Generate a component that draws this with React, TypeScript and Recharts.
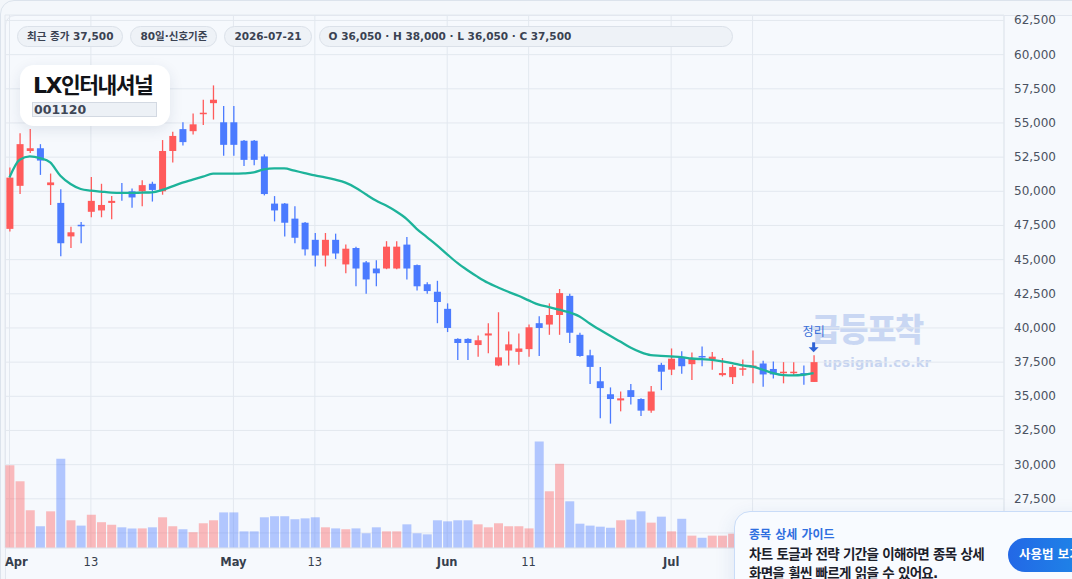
import React from 'react';
import { ComposedChart, Bar, Line, XAxis, YAxis, CartesianGrid, Cell, ReferenceDot } from 'recharts';

const dates = [
  '04-01','04-02','04-03','04-06','04-07','04-08','04-09','04-10','04-13','04-14','04-15','04-16','04-17','04-20','04-21','04-22','04-23','04-24','04-27','04-28','04-29','04-30',
  '05-01','05-04','05-05','05-06','05-07','05-08','05-11','05-12','05-13','05-14','05-15','05-18','05-19','05-20','05-21','05-22','05-25','05-26','05-27','05-28','05-29',
  '06-01','06-02','06-03','06-04','06-05','06-08','06-09','06-10','06-11','06-12','06-15','06-16','06-17','06-18','06-19','06-22','06-23','06-24','06-25','06-26','06-29','06-30',
  '07-01','07-02','07-03','07-06','07-07','07-08','07-09','07-10','07-13','07-14','07-15','07-16','07-17','07-20','07-21'
];

const opens = [
  47250,50400,52950,53150,50450,49150,46700,47550,48500,48600,49150,49950,50000,50000,50550,50000,52950,54550,54400,55650,
  56450,55050,55050,53700,53700,52550,49100,49100,48000,47700,46450,45300,46450,44650,45850,44800,44350,44350,44350,46100,
  44600,43200,42650,41400,39200,39200,38750,39450,37250,38350,38250,38450,40350,40250,40950,42350,39500,38000,36100,35150,
  34700,35450,34800,33950,37300,36950,37800,37350,37950,37700,36550,36400,36950,37100,37400,37000,36700,36700,36700,36050
];
const highs = [
  51750,54250,54550,53450,51300,50150,47400,47750,51050,50550,49650,50600,50200,50800,50700,53750,54350,55050,55700,56700,
  57750,56250,56250,53750,53750,52700,49650,49150,48900,47750,46950,46950,46900,46100,45950,44900,44950,46350,46350,46650,
  44650,43350,43450,41800,39250,39250,39450,40350,41150,39750,39600,40250,40850,41800,42850,42500,39650,38400,37150,35650,
  35350,35900,34850,35750,37450,38500,38300,38200,38650,38250,37800,37300,37700,38350,37600,37550,37500,37500,37250,38000
];
const lows = [
  47050,49800,52800,51200,49000,45250,45850,46200,48100,48100,47950,49300,48800,48900,49250,49750,52100,53350,54150,54850,
  55250,52600,52600,51850,51900,49700,47800,46700,46200,45300,44500,44500,45050,44000,43050,42500,43050,44300,44300,43550,
  42750,42500,40350,39700,37650,37650,37900,38150,37200,37250,37300,37900,37950,39500,39500,38900,37900,35900,33400,33000,
  33900,34400,33550,33800,35450,36550,36650,36200,37200,36950,36450,35900,36500,35950,35700,36300,35950,36500,35850,36050
];
const closes = [
  51000,53450,53150,52250,50650,46200,47000,47450,49300,49000,49300,49850,49550,50450,50100,52950,54050,53600,54900,55750,
  56700,53400,53400,52300,52300,49800,48600,47700,46600,45750,45300,46450,45450,45800,44350,43550,44000,45950,45950,44350,
  43050,42700,41900,40000,38900,38900,39100,39600,37850,38800,38500,40050,40000,40950,42550,39650,37950,37150,35600,34800,
  34850,34950,33950,35350,36800,37750,37200,37800,37850,37900,36700,37150,37050,37250,36600,36600,36800,36800,36600,37500
];
const ma20 = [
  51020,52306,52549,52428,52112,51141,50535,50170,50049,49976,49904,49879,49879,49904,49928,50098,50365,50632,50850,51068,
  51287,51287,51287,51311,51384,51602,51675,51675,51505,51335,51166,51020,50850,50632,50268,49782,49321,48957,48520,47986,
  47258,46651,46045,45389,44758,44224,43739,43302,42962,42647,42355,42020,41703,41532,41336,41140,40847,40333,39868,39428,
  39012,38572,38230,38010,37961,37912,37863,37765,37716,37667,37560,37432,37260,37163,36942,36698,36551,36527,36576,36698
];
// volume, thousand shares
const volumes = [
  388,313,177,102,172,419,130,105,156,121,109,97,92,92,97,144,102,88,74,116,
  130,167,167,78,78,144,149,149,135,139,144,97,92,88,92,69,97,78,78,111,
  69,64,130,125,130,130,111,97,116,102,102,92,500,266,395,219,114,105,100,95,
  130,133,172,119,147,78,137,58,48,58,58,67,60,70,95,75,55,50,65,105
];

const priceTicks = [25000, 27500, 30000, 32500, 35000, 37500, 40000, 42500, 45000, 47500, 50000, 52500, 55000, 57500, 60000, 62500];
const xTickIdx = [0, 8, 22, 30, 43, 51, 65, 73];
const xTickLabels = ['Apr', '13', 'May', '13', 'Jun', '11', 'Jul', '13'];

const badges = ['최근 종가 37,500', '80일·신호기준', '2026-07-21', 'O 36,050 · H 38,000 · L 36,050 · C 37,500'];

const UP = '#ff5b5b';
const DOWN = '#4b7bff';
const FONT = "'DejaVu Sans', 'Noto Sans CJK KR', sans-serif";

const data = dates.map((d, i) => ({
  idx: i,
  date: d,
  open: opens[i],
  high: highs[i],
  low: lows[i],
  close: closes[i],
  range: [lows[i], highs[i]],
  ma: ma20[i],
  vol: volumes[i],
  up: closes[i] >= opens[i],
}));

function Candle(props: any) {
  const { x, y, width, height, payload } = props;
  if (x == null || y == null || !payload) return null;
  const top = Math.min(y, y + height);
  const h = Math.abs(height);
  const span = payload.high - payload.low;
  const yOf = (v: number) => (span > 0 ? top + ((payload.high - v) / span) * h : top);
  const cx = x + width / 2;
  const yo = yOf(payload.open);
  const yc = yOf(payload.close);
  const bt = Math.min(yo, yc);
  const bh = Math.max(1.5, Math.abs(yo - yc));
  const color = payload.up ? UP : DOWN;
  return (
    <g>
      <line x1={cx} x2={cx} y1={top} y2={top + h} stroke={color} strokeWidth={1.3} />
      <rect x={x} y={bt} width={width} height={bh} fill={color} />
    </g>
  );
}

function XTick(props: any) {
  const { x, y, payload } = props;
  const k = xTickIdx.indexOf(payload.value);
  const label = xTickLabels[k] ?? '';
  const isMonth = isNaN(Number(label));
  const first = k === 0;
  return (
    <text
      x={first ? x - 4.5 : x}
      y={y + 18}
      textAnchor={first ? 'start' : 'middle'}
      fontSize={11.5}
      fontWeight={isMonth ? 700 : 400}
      fill="#363f4d"
    >
      {label}
    </text>
  );
}

function YTick(props: any) {
  const { x, y, payload } = props;
  return (
    <text x={x} y={y + 4} textAnchor="start" fontSize={12} fill="#4a5261">
      {Number(payload.value).toLocaleString('en-US')}
    </text>
  );
}

function SignalMark(props: any) {
  const { cx, cy } = props;
  if (cx == null || cy == null) return null;
  const c = '#2f63d6';
  return (
    <g>
      <text x={cx} y={cy - 19} textAnchor="middle" fontSize={12} fill="#3a6fd8">정리</text>
      <rect x={cx - 1.5} y={cy - 13} width={3} height={6} fill={c} />
      <polygon points={`${cx - 5},${cy - 8} ${cx + 5},${cy - 8} ${cx},${cy - 3}`} fill={c} />
    </g>
  );
}

export default function App() {
  return (
    <div
      style={{
        position: 'absolute',
        left: 0,
        top: 0,
        width: 1072,
        height: 579,
        overflow: 'hidden',
        fontFamily: FONT,
        background: '#f3f6fa',
      }}
    >
      <div
        style={{
          position: 'absolute', left: 0, top: 0, width: 1100, height: 620,
          border: '1px solid #dce3ec', borderRadius: 14, background: '#f4f7fb', boxSizing: 'border-box',
        }}
      />
      <div
        style={{
          position: 'absolute', left: 5, top: 15, width: 1100, height: 620,
          border: '1px solid #e2e7ef', borderRadius: 10, background: '#f6f9fd', boxSizing: 'border-box',
        }}
      />
      {/* watermark */}
      <div style={{ position: 'absolute', left: 811, top: 309, fontSize: 32, fontWeight: 900, color: '#c9d7f3', letterSpacing: -1.5, lineHeight: '42px', whiteSpace: 'nowrap' }}>
        급등포착
      </div>
      <div style={{ position: 'absolute', left: 823, top: 354, fontSize: 13, fontWeight: 700, color: '#c6d4f0', letterSpacing: 0.3, lineHeight: '18px', whiteSpace: 'nowrap' }}>
        upsignal.co.kr
      </div>

      <div style={{ position: 'absolute', left: 0, top: 0 }}>
        <ComposedChart width={1072} height={579} data={data} margin={{ top: 15, right: 0, bottom: 0, left: 5 }}>
          <CartesianGrid stroke="#e3e8ef" xAxisId="x" yAxisId="p" />
          <XAxis
            xAxisId="x"
            dataKey="idx"
            type="number"
            domain={[-0.44, 97.7]}
            allowDataOverflow
            ticks={xTickIdx}
            interval={0}
            tick={<XTick />}
            tickLine={false}
            tickSize={0}
            tickMargin={0}
            axisLine={{ stroke: '#e3e8ef' }}
            height={31}
          />
          <XAxis xAxisId="xv" dataKey="idx" type="number" domain={[-0.44, 97.7]} allowDataOverflow hide />
          <YAxis
            yAxisId="p"
            orientation="right"
            domain={[23900, 62900]}
            allowDataOverflow
            ticks={priceTicks}
            interval={0}
            width={68}
            tick={<YTick />}
            tickLine={false}
            tickSize={0}
            tickMargin={10}
            axisLine={{ stroke: '#e3e8ef' }}
          />
          <YAxis yAxisId="v" domain={[0, 2500]} allowDataOverflow hide />
          <Bar xAxisId="xv" yAxisId="v" dataKey="vol" barSize={9} isAnimationActive={false}>
            {data.map((d, i) => (
              <Cell key={i} fill={d.up ? UP : DOWN} fillOpacity={0.4} />
            ))}
          </Bar>
          <Bar xAxisId="x" yAxisId="p" dataKey="range" barSize={7} shape={<Candle />} isAnimationActive={false} />
          <Line
            xAxisId="x"
            yAxisId="p"
            dataKey="ma"
            type="monotone"
            stroke="#1db39a"
            strokeWidth={2.3}
            dot={false}
            isAnimationActive={false}
          />
          <ReferenceDot xAxisId="x" yAxisId="p" x={79} y={highs[79]} r={0} shape={<SignalMark />} />
        </ComposedChart>
      </div>

      {/* badges */}
      <div style={{ position: 'absolute', left: 17, top: 26, width: 716, display: 'flex', gap: 7 }}>
        {badges.map((b, i) => (
          <div
            key={i}
            style={{
              flex: i === badges.length - 1 ? 1 : 'none',
              height: 21,
              boxSizing: 'border-box',
              border: '1px solid #dbe1e9',
              borderRadius: 11,
              background: '#eef2f7',
              padding: '0 9px',
              fontSize: 10.5,
              fontWeight: 700,
              color: '#3a4252',
              lineHeight: '19px',
              whiteSpace: 'nowrap',
            }}
          >
            {b}
          </div>
        ))}
      </div>

      {/* logo card */}
      <div
        style={{
          position: 'absolute', left: 20, top: 65, width: 150, height: 61, borderRadius: 14,
          background: '#ffffff', boxShadow: '0 4px 14px rgba(30,50,90,0.10)',
        }}
      >
        <div style={{ position: 'absolute', left: 13, top: 6, whiteSpace: 'nowrap', color: '#111318', lineHeight: '30px' }}>
          <span style={{ fontSize: 22, fontWeight: 900, letterSpacing: -1.5 }}>LX</span>
          <span style={{ fontSize: 21.5, fontWeight: 700, letterSpacing: -1.5 }}>인터내셔널</span>
        </div>
        <div
          style={{
            position: 'absolute', left: 12, top: 37, width: 125, height: 15, boxSizing: 'border-box',
            border: '1px solid #d3d9e2', background: '#edf1f6', fontSize: 12.5, fontWeight: 700,
            color: '#3f4756', lineHeight: '13px', paddingLeft: 1,
          }}
        >
          001120
        </div>
      </div>

      {/* guide popup */}
      <div
        style={{
          position: 'absolute', left: 734, top: 511, width: 400, height: 90, boxSizing: 'border-box',
          border: '1px solid #c9dcf8', borderRadius: 16, background: '#f8fbff',
          boxShadow: '0 6px 20px rgba(40,80,160,0.12)',
        }}
      >
        <div style={{ position: 'absolute', left: 14, top: 15, fontSize: 12, fontWeight: 600, color: '#2f6fe0', lineHeight: '16px', whiteSpace: 'nowrap' }}>
          종목 상세 가이드
        </div>
        <div style={{ position: 'absolute', left: 14, top: 33, fontSize: 13.5, fontWeight: 700, color: '#1b202a', lineHeight: '19px', letterSpacing: -0.7, whiteSpace: 'nowrap' }}>
          차트 토글과 전략 기간을 이해하면 종목 상세
          <br />
          화면을 휠씬 빠르게 읽을 수 있어요.
        </div>
        <div
          style={{
            position: 'absolute', left: 273, top: 26, width: 130, height: 34, borderRadius: 17,
            background: 'linear-gradient(90deg, #2368e6, #1a9ae8)', color: '#ffffff', fontSize: 12.5,
            fontWeight: 600, lineHeight: '34px', paddingLeft: 11, boxSizing: 'border-box', whiteSpace: 'nowrap',
          }}
        >
          사용법 보기
        </div>
      </div>
    </div>
  );
}
